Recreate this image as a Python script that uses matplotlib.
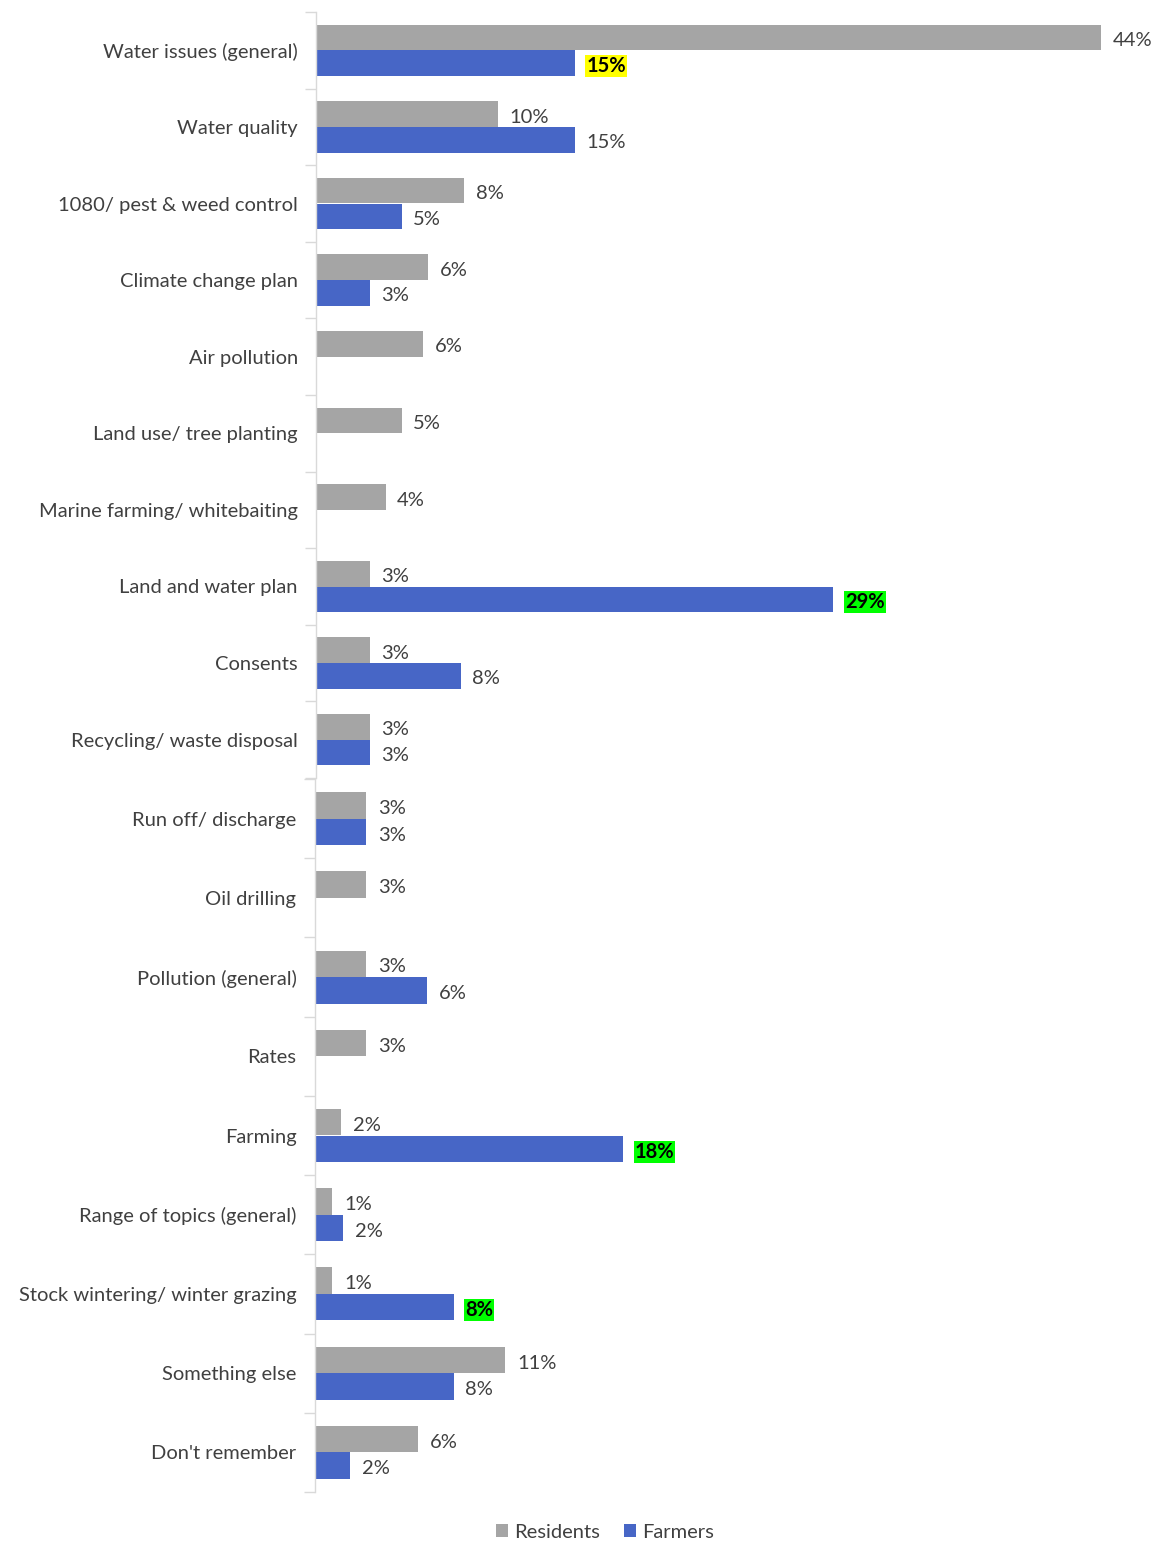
import matplotlib
matplotlib.use("Agg")
import matplotlib.pyplot as plt
import numpy as np
from matplotlib.ticker import FixedLocator, NullLocator

categories = [
    "Water issues (general)", "Water quality", "1080/ pest & weed control",
    "Climate change plan", "Air pollution", "Land use/ tree planting",
    "Marine farming/ whitebaiting", "Land and water plan", "Consents",
    "Recycling/ waste disposal", "Run off/ discharge", "Oil drilling",
    "Pollution (general)", "Rates", "Farming", "Range of topics (general)",
    "Stock wintering/ winter grazing", "Something else", "Don't remember",
]
residents = [44.0, 10.2, 8.3, 6.3, 6.0, 4.8, 3.9, 3.0, 3.0, 3.0,
             2.9, 2.9, 2.9, 2.9, 1.5, 1.0, 1.0, 10.7, 5.8]
farmers = [14.5, 14.5, 4.8, 3.0, None, None, None, 29.0, 8.1, 3.0,
           2.9, None, 6.3, None, 17.3, 1.6, 7.8, 7.8, 2.0]
residents_labels = ["44%", "10%", "8%", "6%", "6%", "5%", "4%", "3%", "3%", "3%",
                    "3%", "3%", "3%", "3%", "2%", "1%", "1%", "11%", "6%"]
farmers_labels = ["15%", "15%", "5%", "3%", "", "", "", "29%", "8%", "3%",
                  "3%", "", "6%", "", "18%", "2%", "8%", "8%", "2%"]
# highlight colours for farmer labels (index -> colour)
highlights = {0: "#ffff00", 7: "#00ff00", 14: "#00ff00", 16: "#00ff00"}

GREY = "#a5a5a5"
BLUE = "#4766c6"
TXT = "#404040"

plt.rcParams['font.family'] = ['Lato', 'DejaVu Sans']

fig = plt.figure(figsize=(11.56, 15.42), dpi=100)
W, H = 1156, 1542
PX_PER_PCT = 17.84
FS_CAT = 14.5
FS_LBL = 14.5


def panel(x0, ytop, ybot, idx):
    xmax = (1156 - x0) / PX_PER_PCT
    ax = fig.add_axes([x0 / W, 1 - ybot / H, (W - x0) / W, (ybot - ytop) / H])
    n = len(idx)
    y = np.arange(n)
    bh = 0.335
    r = [residents[i] for i in idx]
    ax.barh(y - bh / 2, r, height=bh, color=GREY, label="Residents")
    fy = [k + bh / 2 for k, i in enumerate(idx) if farmers[i] is not None]
    fvals = [farmers[i] for i in idx if farmers[i] is not None]
    ax.barh(fy, fvals, height=bh, color=BLUE, label="Farmers")
    ax.set_xlim(0, xmax)
    ax.set_ylim(n - 0.5, -0.5)
    pad = 0.65
    dy = 0.04
    for k, i in enumerate(idx):
        ax.text(residents[i] + pad, k - bh / 2 + dy, residents_labels[i], va="center",
                ha="left", fontsize=FS_LBL, color=TXT)
        if farmers[i] is not None:
            if i in highlights:
                ax.text(farmers[i] + pad, k + bh / 2 + dy, farmers_labels[i], va="center",
                        ha="left", fontsize=FS_LBL, color="black", fontweight="bold",
                        bbox=dict(boxstyle="square,pad=0.05", fc=highlights[i], ec="none"))
            else:
                ax.text(farmers[i] + pad, k + bh / 2 + dy, farmers_labels[i], va="center",
                        ha="left", fontsize=FS_LBL, color=TXT)
    ax.set_yticks(y)
    ax.set_yticklabels([categories[i] for i in idx], fontsize=FS_CAT, color=TXT)
    ax.tick_params(axis="y", which="major", length=0, pad=13)
    ax.yaxis.set_minor_locator(FixedLocator(np.arange(-0.5, n, 1.0)))
    ax.tick_params(axis="y", which="minor", length=8, color="#d9d9d9", width=1)
    ax.xaxis.set_major_locator(NullLocator())
    for s in ["top", "right", "bottom"]:
        ax.spines[s].set_visible(False)
    ax.spines["left"].set_color("#d9d9d9")
    ax.spines["left"].set_linewidth(1)
    ax.patch.set_alpha(0)
    return ax


ax1 = panel(316, 12, 778, list(range(0, 10)))
ax2 = panel(314.5, 779, 1492, list(range(10, 19)))

leg = fig.legend(*ax1.get_legend_handles_labels(), loc="center",
                 bbox_to_anchor=(605 / W, 1 - 1532 / H), ncol=2,
                 frameon=False, fontsize=14.5, handlelength=0.6, handleheight=0.6,
                 handletextpad=0.3, columnspacing=1.2)
for t in leg.get_texts():
    t.set_color(TXT)

fig.savefig("out.png", dpi=100)
